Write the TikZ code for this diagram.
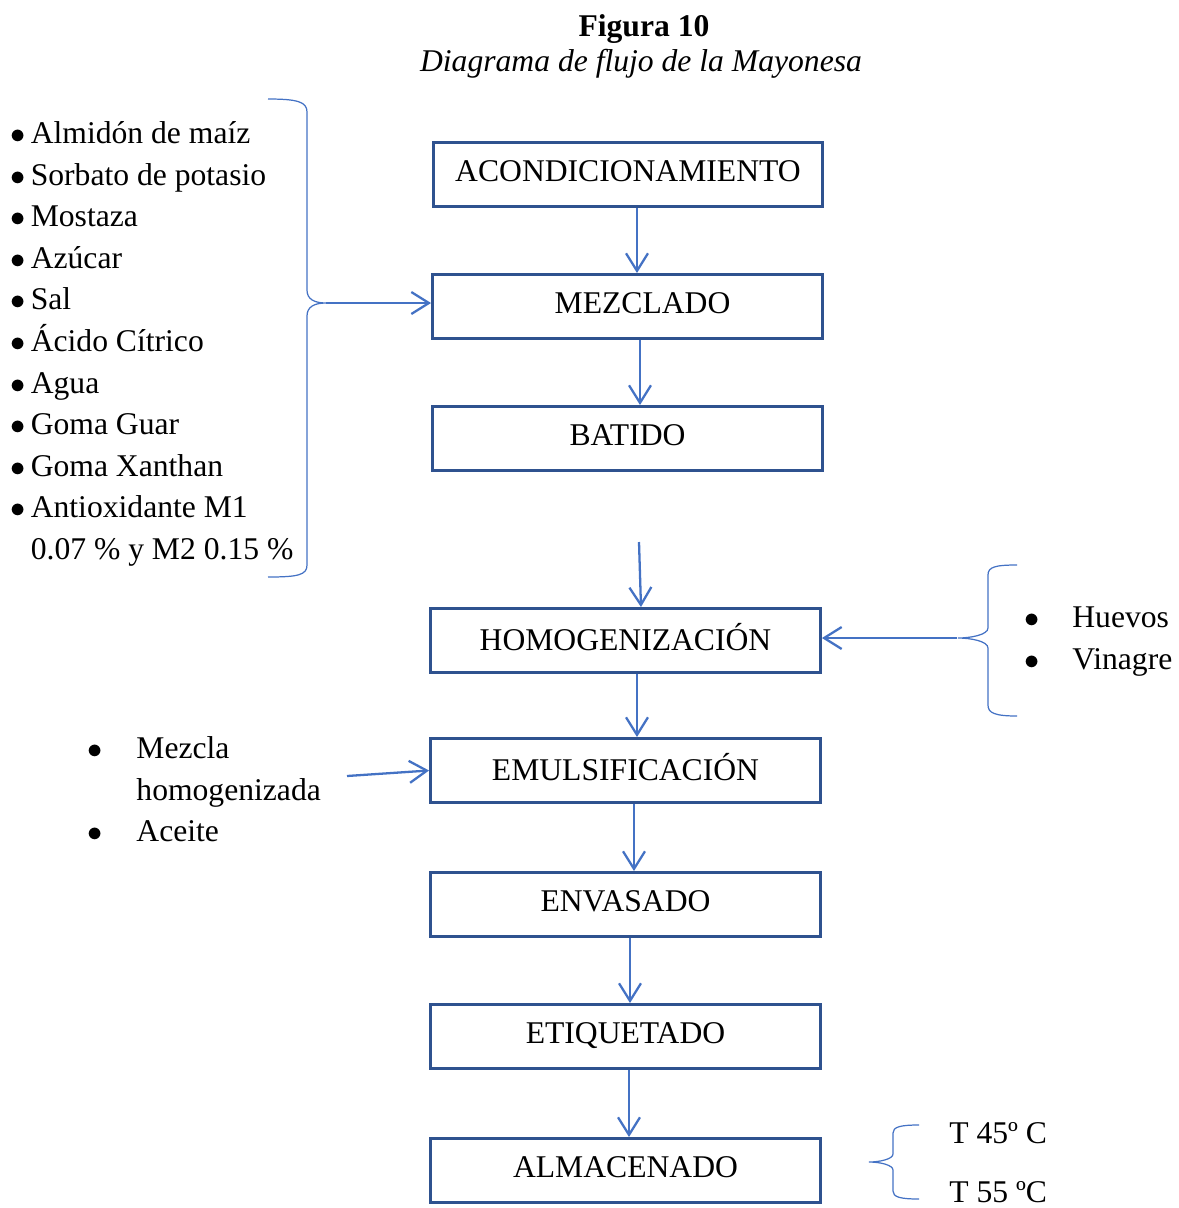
\documentclass[tikz,border=0pt]{standalone}
\usepackage{fontspec}
\setmainfont{Liberation Serif}
\usetikzlibrary{arrows.meta}
\definecolor{boxblue}{HTML}{2F528F}
\definecolor{lineblue}{HTML}{4472C4}
\newcommand{\bul}{$\bullet$}

\begin{document}
\begin{tikzpicture}[x=0.02cm, y=-0.02cm,
  font=\fontsize{18}{23.65}\selectfont,
  procbox/.style={draw=boxblue, line width=1.7pt, minimum width=7.8cm, minimum height=1.28cm, inner sep=0pt, text depth=4pt},
  flow/.style={-{Straight Barb[length=10pt,width=12.5pt]}, color=lineblue, line width=1.3pt},
  bracket/.style={color=lineblue, line width=.7pt}]
\useasboundingbox (0,0) rectangle (1178,1208);

% titulo
\node(fig)[anchor=base, font=\fontsize{18}{23.65}\selectfont\bfseries] at (644,36) {Figura 10};
\node(tit)[anchor=base, font=\fontsize{18}{23.65}\selectfont\itshape] at (641,71) {Diagrama de flujo de la Mayonesa};

% etapas
\node(acond)[procbox] at (628,174.5) {ACONDICIONAMIENTO};
\node(mezclado)[procbox] at (627.5,306.5) {\hspace{0.6cm}MEZCLADO};
\node(batido)[procbox] at (627.5,438.5) {BATIDO};
\node(homog)[procbox] at (625.5,640.5) {HOMOGENIZACIÓN};
\node(emuls)[procbox] at (625.5,770.5) {EMULSIFICACIÓN};
\node(envas)[procbox] at (625.5,904.5) {ENVASADO};
\node(etiq)[procbox] at (625.5,1036.5) {ETIQUETADO};
\node(almac)[procbox] at (625.5,1170.5) {ALMACENADO};

\draw[flow] (acond.south -| 637,0) -- (mezclado.north -| 637,0);
\draw[flow] (mezclado.south -| 640,0) -- (batido.north -| 640,0);
\coordinate (hueco) at (639,542);
\draw[flow] (hueco) -- (homog.north -| 641,0);
\draw[flow] (homog.south -| 637,0) -- (emuls.north -| 637,0);
\draw[flow] (emuls.south -| 634,0) -- (envas.north -| 634,0);
\draw[flow] (envas.south -| 630,0) -- (etiq.north -| 630,0);
\draw[flow] (etiq.south -| 629,0) -- (almac.north -| 629,0);

% ingredientes
\node(ingr)[anchor=north west, inner sep=0pt] at (10,114.3) {\begin{tabular}{@{}c@{\hspace{3pt}}l@{}}
\bul & Almidón de maíz\\
\bul & Sorbato de potasio\\
\bul & Mostaza\\
\bul & Azúcar\\
\bul & Sal\\
\bul & Ácido Cítrico\\
\bul & Agua\\
\bul & Goma Guar\\
\bul & Goma Xanthan\\
\bul & Antioxidante M1\\
 & 0.07 \% y M2 0.15 \%
\end{tabular}};
\draw[bracket] (268,99) .. controls (298,99) and (307,102) .. (307,112) -- (307,290)
  .. controls (307,299) and (314,303) .. (326,303)
  .. controls (314,303) and (307,307) .. (307,316) -- (307,565)
  .. controls (307,575) and (298,577) .. (268,577);
\coordinate (ltip) at (326,303);
\draw[flow] (ltip) -- (ltip -| mezclado.west);

\node(huevos)[anchor=north west, inner sep=0pt] at (1024,598.3) {\begin{tabular}{@{}c@{\hspace{18.7pt}}l@{}}
\bul & Huevos\\
\bul & Vinagre
\end{tabular}};
\draw[bracket] (1017,565) .. controls (995,565) and (988,567) .. (988,575) -- (988,628)
  .. controls (988,635) and (970,638) .. (958,638)
  .. controls (970,638) and (988,641) .. (988,648) -- (988,705)
  .. controls (988,713) and (995,716) .. (1017,716);
\coordinate (rtip) at (957,638);
\draw[flow] (rtip) -- (rtip -| homog.east);

\node(mezcla)[anchor=north west, inner sep=0pt] at (87,729.3) {\begin{tabular}{@{}c@{\hspace{19.3pt}}l@{}}
\bul & Mezcla\\
 & homogenizada\\
\bul & Aceite
\end{tabular}};
\coordinate (mcola) at (347,776);
\draw[flow] (mcola) -- (emuls.west);

% temperaturas
\node(t45)[anchor=west, inner sep=0pt] at (949,1133) {T 45º C};
\node(t55)[anchor=west, inner sep=0pt] at (949,1192) {T 55 ºC};
\draw[bracket] (919,1125) .. controls (900,1125) and (893,1127) .. (893,1133) -- (893,1154)
  .. controls (893,1159) and (880,1162) .. (869,1162)
  .. controls (880,1162) and (893,1165) .. (893,1170) -- (893,1191)
  .. controls (893,1197) and (900,1199) .. (919,1199);
\end{tikzpicture}
\end{document}
